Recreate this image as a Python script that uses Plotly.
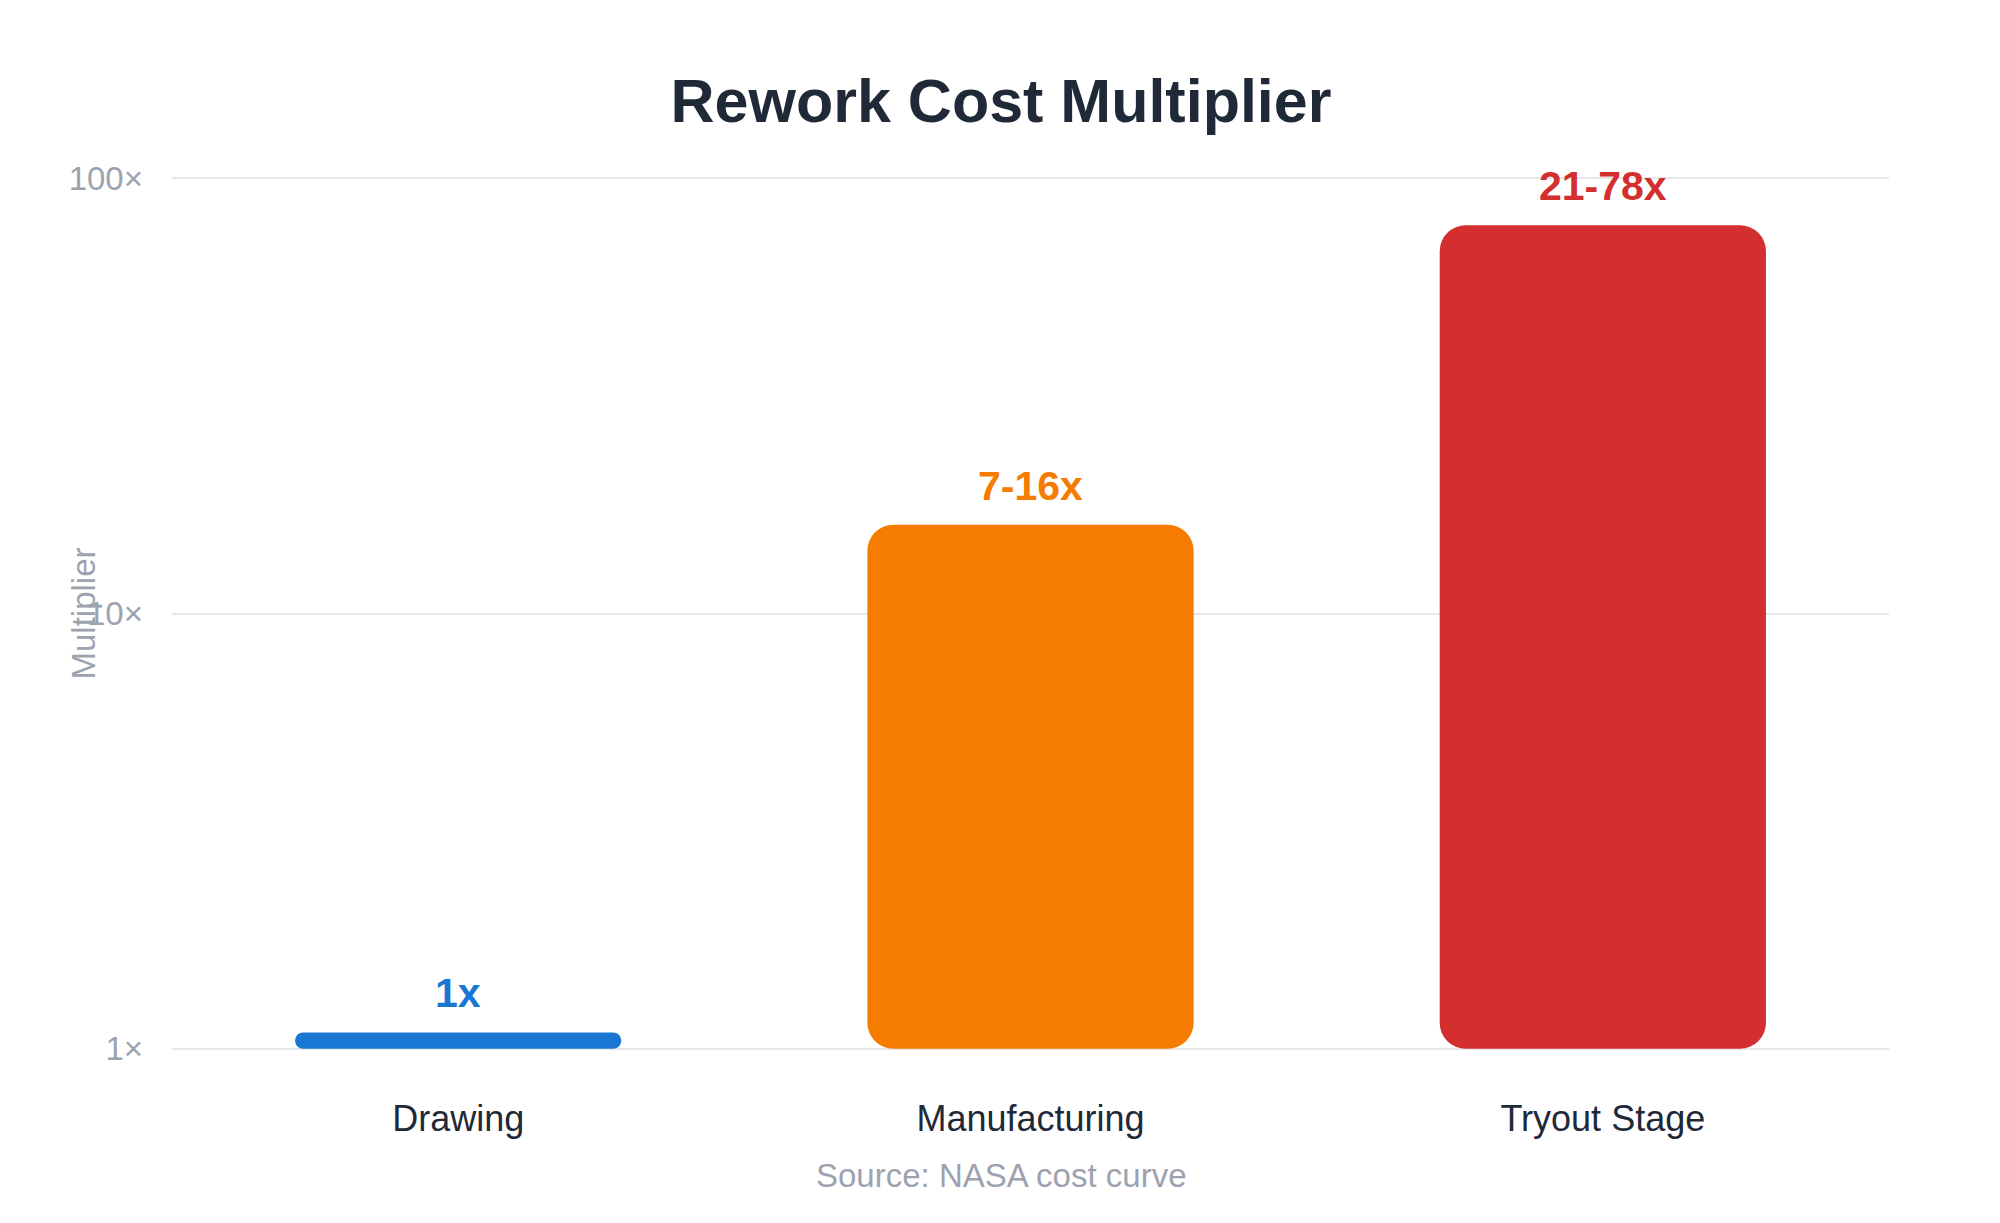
import numpy as np
import plotly.graph_objects as go

# ---- data ----
stages = ["Drawing", "Manufacturing", "Tryout Stage"]
low_mult = [1, 7, 21]
high_mult = [1, 16, 78]
colors = ["#1976d2", "#f57c00", "#d32f2f"]
y_ticks = [1, 10, 100]
y_tick_labels = ["1×", "10×", "100×"]

# ---- style constants ----
FONT = "Liberation Sans, Arial, Helvetica, sans-serif"
FLOOR = 1.0            # bottom of log axis
MIN_VISIBLE = 1.09     # minimum drawn bar top so the 1x bar stays visible (like minBarLength)
RADIUS = 26
PAD = 0.012            # small log-range padding so edge gridlines are drawn
L, R, T, B = 164, 119, 165, 177
W, H = 2000, 1223
CENTER_X = 993

labels = [f"{lo}x" if lo == hi else f"{lo}-{hi}x" for lo, hi in zip(low_mult, high_mult)]
tops = [max(h, MIN_VISIBLE) for h in high_mult]

fig = go.Figure()
fig.add_trace(go.Bar(
    x=stages, y=[t - FLOOR for t in tops], base=[FLOOR] * len(tops),
    marker=dict(color=colors, cornerradius=RADIUS, line=dict(width=0)),
    hoverinfo="skip", showlegend=False,
))

for s, t, lab, c in zip(stages, tops, labels, colors):
    fig.add_annotation(
        x=s, y=np.log10(t), xref="x", yref="y", text=f"<b>{lab}</b>",
        showarrow=False, yanchor="bottom", yshift=14,
        font=dict(family=FONT, size=41, color=c),
    )

plot_w = W - L - R
plot_h = H - T - B
fig.add_annotation(
    x=(75 - L) / plot_w, y=0.5, xref="paper", yref="paper", text="Multiplier",
    textangle=-90, showarrow=False, xanchor="center", yanchor="middle",
    font=dict(family=FONT, size=33, color="#9ca3af"),
)
fig.add_annotation(
    x=(CENTER_X - L) / plot_w, y=-(1167 - (H - B)) / plot_h, xref="paper", yref="paper",
    text="Source: NASA cost curve",
    showarrow=False, xanchor="center", yanchor="middle",
    font=dict(family=FONT, size=33, color="#9ca3af"),
)

fig.update_layout(
    width=W, height=H,
    paper_bgcolor="white", plot_bgcolor="white",
    bargap=0.43,
    margin=dict(l=L, r=R, t=T, b=B),
    title=dict(
        text="<b>Rework Cost Multiplier</b>", x=CENTER_X / W, xanchor="center",
        y=1 - 93 / H, yanchor="middle", yref="container",
        font=dict(family=FONT, size=61, color="#1f2937"),
    ),
    font=dict(family=FONT),
)
fig.update_xaxes(
    showgrid=False, showline=False, zeroline=False, ticks="",
    tickfont=dict(family=FONT, size=36, color="#1f2937"),
    ticklabelstandoff=40,
)
fig.update_yaxes(
    type="log", range=[-PAD, 2 + PAD], tickvals=y_ticks, ticktext=y_tick_labels,
    showgrid=True, gridcolor="#e5e7eb", gridwidth=2, zeroline=False, showline=False,
    tickfont=dict(family=FONT, size=33, color="#9ca3af"), ticks="",
    ticklabelstandoff=28,
)

fig.write_html("out.html")
